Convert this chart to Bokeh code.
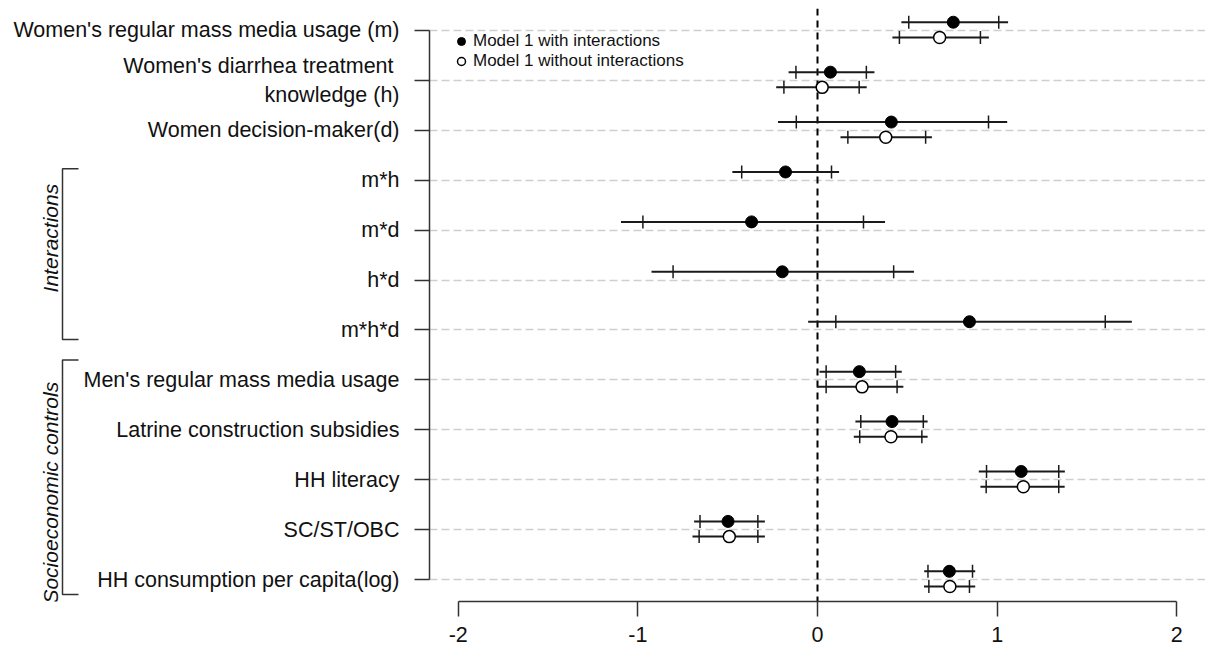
import numpy as np
from bokeh.plotting import figure
from bokeh.models import (ColumnDataSource, Range1d, FixedTicker, Span,
                          Legend, LegendItem)
from bokeh.core.properties import value
from bokeh.embed import file_html
from bokeh.resources import INLINE

# ---------------- data ----------------
labels = [
    "Women's regular mass media usage (m)",
    "Women's diarrhea treatment \nknowledge (h)",
    "Women decision-maker(d)",
    "m*h",
    "m*d",
    "h*d",
    "m*h*d",
    "Men's regular mass media usage",
    "Latrine construction subsidies",
    "HH literacy",
    "SC/ST/OBC",
    "HH consumption per capita(log)",
]

# Model 1 with interactions: estimate, 90% and 95% interval ends
with_est  = [0.756, 0.072, 0.411, -0.178, -0.367, -0.196, 0.846, 0.233, 0.415, 1.134, -0.498, 0.734]
with_lo95 = [0.467, -0.161, -0.220, -0.474, -1.094, -0.924, -0.052, 0.011, 0.211, 0.898, -0.687, 0.594]
with_lo90 = [0.508, -0.120, -0.118, -0.422, -0.972, -0.804, 0.102, 0.048, 0.241, 0.941, -0.654, 0.615]
with_hi90 = [1.009, 0.272, 0.952, 0.078, 0.256, 0.424, 1.602, 0.435, 0.589, 1.343, -0.332, 0.863]
with_hi95 = [1.061, 0.317, 1.056, 0.120, 0.376, 0.537, 1.750, 0.469, 0.613, 1.377, -0.293, 0.878]

# Model 1 without interactions (no interaction terms)
wo_est  = [0.680, 0.026, 0.380, None, None, None, None, 0.248, 0.409, 1.146, -0.491, 0.737]
wo_lo95 = [0.417, -0.230, 0.128, None, None, None, None, -0.002, 0.202, 0.907, -0.696, 0.593]
wo_lo90 = [0.456, -0.187, 0.169, None, None, None, None, 0.048, 0.235, 0.939, -0.659, 0.620]
wo_hi90 = [0.907, 0.232, 0.602, None, None, None, None, 0.443, 0.581, 1.343, -0.332, 0.846]
wo_hi95 = [0.954, 0.274, 0.637, None, None, None, None, 0.478, 0.613, 1.376, -0.293, 0.878]

x_ticks = [-2, -1, 0, 1, 2]
legend_labels = ["Model 1 with interactions", "Model 1 without interactions"]
group_names = ["Interactions", "Socioeconomic controls"]

# ---------------- layout / style ----------------
FONT = "Liberation Sans"
INK = "#1a1a1a"
AX = "#333333"
n = len(labels)
row_y = [n - i for i in range(n)]
OFF_W, OFF_O = 0.165, -0.14

W, H = 1205, 650
BOTTOM = 49
PLOT_LEFT_PX = 429                 # where the y axis sits
X_LO, X_HI = -2.16, 2.16           # visible data span right of the y axis
PX_PER_UNIT = (W - PLOT_LEFT_PX) / (X_HI - X_LO)
X_MIN = X_LO - PLOT_LEFT_PX / PX_PER_UNIT


def px_x(px):
    return X_MIN + px / PX_PER_UNIT


group_brackets = [(9.23, 5.81), (5.40, 0.70)]
group_centers = [7.84, 2.74]

src_w = ColumnDataSource(dict(
    y=[r + OFF_W for r in row_y], est=with_est,
    lo95=with_lo95, lo90=with_lo90, hi90=with_hi90, hi95=with_hi95))
keep = [i for i in range(n) if wo_est[i] is not None]
src_o = ColumnDataSource(dict(
    y=[row_y[i] + OFF_O for i in keep], est=[wo_est[i] for i in keep],
    lo95=[wo_lo95[i] for i in keep], lo90=[wo_lo90[i] for i in keep],
    hi90=[wo_hi90[i] for i in keep], hi95=[wo_hi95[i] for i in keep]))

p = figure(width=W, height=H, output_backend="svg", toolbar_location=None,
           x_range=Range1d(X_MIN, X_HI), y_range=Range1d(0.56, 12.44),
           min_border_left=0, min_border_right=0, min_border_top=8,
           min_border_bottom=BOTTOM)
p.outline_line_color = None
p.background_fill_color = "white"
p.border_fill_color = "white"

# grid: dashed light gray at each row, only right of the y axis
p.xgrid.visible = False
if "cross_bounds" in p.ygrid.properties():
    p.ygrid.ticker = FixedTicker(ticks=row_y)
    p.ygrid.cross_bounds = (X_LO, X_HI)
    p.ygrid.grid_line_color = "#cfcfcf"
    p.ygrid.grid_line_dash = "8 4"
    p.ygrid.grid_line_width = 1.5
else:
    p.ygrid.visible = False
    p.segment(x0=[X_LO] * n, x1=[X_HI] * n, y0=row_y, y1=row_y,
              line_color="#cfcfcf", line_dash="8 4", line_width=1.5)

zero = Span(location=0, dimension="height", line_color="black",
            line_dash="7 5", line_width=2, level="underlay")
p.add_layout(zero)

for src in (src_w, src_o):
    p.segment(x0="lo95", x1="hi95", y0="y", y1="y", source=src,
              line_color=INK, line_width=2)
    for col in ("lo90", "hi90"):
        p.scatter(x=col, y="y", source=src, marker="dash", angle=np.pi / 2,
                  size=13, line_color=INK, line_width=1.5)

r_w = p.scatter(x="est", y="y", source=src_w, marker="circle", size=12,
                fill_color="black", line_color="black", line_width=1)
r_o = p.scatter(x="est", y="y", source=src_o, marker="circle", size=12,
                fill_color="white", line_color="black", line_width=1.5)

# axes
xa = p.xaxis[0]
ya = p.yaxis[0]
xa.ticker = FixedTicker(ticks=x_ticks)
xa.major_label_overrides = {t: str(t) for t in x_ticks}
xa.bounds = (x_ticks[0], x_ticks[-1])
ya.ticker = FixedTicker(ticks=row_y)
ya.major_label_overrides = {row_y[i]: labels[i] for i in range(n)}
ya.bounds = (row_y[-1], row_y[0])
ya.fixed_location = X_LO
for ax in (xa, ya):
    ax.axis_line_color = AX
    ax.axis_line_width = 1.5
    ax.major_tick_line_color = AX
    ax.major_tick_line_width = 1.5
    ax.major_tick_out = 15
    ax.major_tick_in = 0
    ax.minor_tick_out = 0
    ax.minor_tick_in = 0
    ax.major_label_text_font = FONT
    ax.major_label_text_font_size = "21.5px"
    ax.major_label_text_color = "#111111"
xa.major_label_standoff = 10
ya.major_label_standoff = 15

# group brackets and labels (left of the y axis labels)
for (top, bot), cy, name in zip(group_brackets, group_centers, group_names):
    p.line(x=[px_x(78), px_x(62), px_x(62), px_x(78)],
           y=[top, top, bot, bot], line_color=AX, line_width=1.5)
    p.text(x=[px_x(50)], y=[cy], text=[name], angle=np.pi / 2,
           text_align="center", text_baseline="middle",
           text_font=value(FONT), text_font_style="italic",
           text_font_size="21px", text_color="#111111")

legend = Legend(items=[LegendItem(label=legend_labels[0], renderers=[r_w]),
                       LegendItem(label=legend_labels[1], renderers=[r_o])],
                location=(PLOT_LEFT_PX + 22, 530), padding=0, margin=0,
                spacing=-1, glyph_width=20, glyph_height=20, label_standoff=2,
                label_text_font=FONT, label_text_font_size="17px",
                label_text_color="#111111", border_line_alpha=0,
                background_fill_alpha=0)
p.add_layout(legend)

open("out.html", "w").write(file_html(p, INLINE))
